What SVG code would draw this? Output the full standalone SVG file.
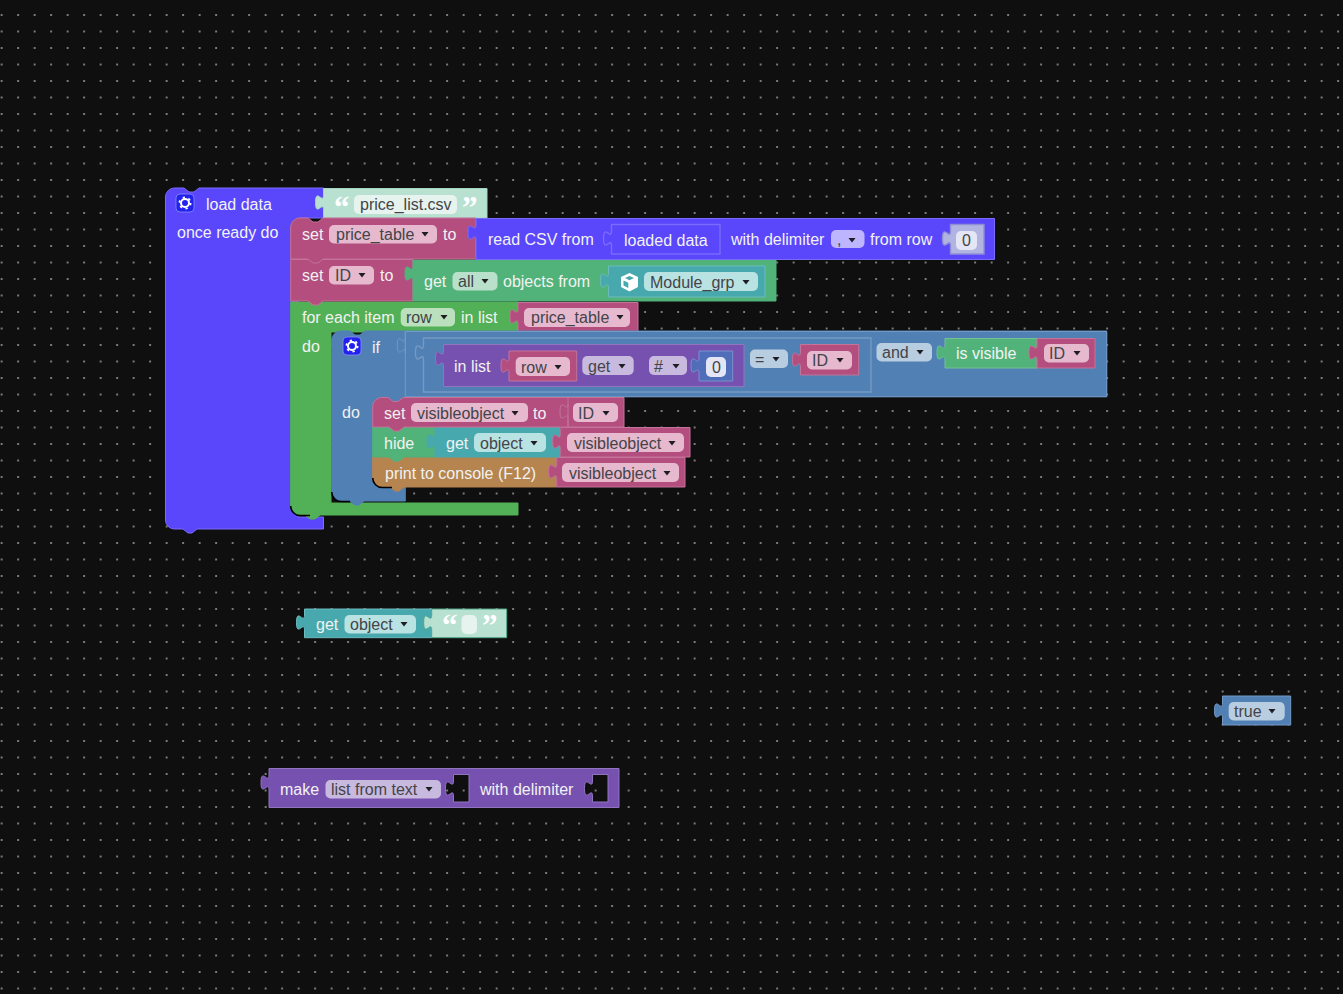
<svg xmlns="http://www.w3.org/2000/svg" xmlns:xlink="http://www.w3.org/1999/xlink" width="1343" height="994" viewBox="0 0 1343 994">
<style>
text{font-family:"Liberation Sans",Arial,sans-serif;font-size:16px;fill:#f2f2f2}
.d{fill:#444448}
.q{font-family:"Liberation Serif","Times New Roman",serif;font-size:31px;font-weight:bold;fill:#fff}
.b{stroke-width:1}
.vi{fill:#5a46fb;stroke:#7a6bfc}
.mg{fill:#b34e7f;stroke:#c47399}
.gr{fill:#52b157;stroke:#52b157}
.dg{fill:#51b27a;stroke:#74c195}
.te{fill:#47a9ad;stroke:#6cbbbe}
.mi{fill:#b9e1d2;stroke:#52a58a}
.bl{fill:#5180b5;stroke:#7499c4}
.pu{fill:#7651b0;stroke:#9174c0}
.or{fill:#b5844f;stroke:#c49c72}
.f{rx:5px;ry:5px}
.fm{fill:#e6b9ce}.fg{fill:#bbe0bd}.fd{fill:#b9e0ca}.ft{fill:#b9e2e3}.fb{fill:#b9cde1}.fp{fill:#c8b9df}.fv{fill:#bdb5fd}.fw{fill:#e6f3ee}.fz{fill:#e4e6f5}
.s{fill:none;stroke:#000;stroke-width:1.6}
</style>
<defs>
<pattern id="dots" width="16.5" height="16.5" patternUnits="userSpaceOnUse" patternTransform="translate(1.65 -1.5)">
<circle cx="0" cy="0" r="1" fill="#a0a0a0"/><circle cx="16.5" cy="0" r="1" fill="#a0a0a0"/><circle cx="0" cy="16.5" r="1" fill="#a0a0a0"/><circle cx="16.5" cy="16.5" r="1" fill="#a0a0a0"/>
</pattern>
<path id="a" d="M-3.5 -2H3.5L0 2.5z" fill="#1d1d22"/>
<g id="gear">
<rect x="-9" y="-9" width="18" height="18" rx="4" fill="#2222ee" stroke="#8c8cf5" stroke-width=".8"/>
<circle r="4" fill="none" stroke="#fff" stroke-width="2"/>
<circle r="5.6" fill="none" stroke="#fff" stroke-width="1.8" stroke-dasharray="2.2 3.66"/>
</g>
</defs>
<rect width="1343" height="994" fill="#0f0f0f"/>
<rect width="1343" height="994" fill="url(#dots)"/>

<g id="load-data">
<path class="b vi" d="M165.5 197a9 9 0 0 1 9-9H184l5 4h5l5-4H323.5V218H298V517H323.5V529H197l-5 4h-4l-5-4H174a9 9 0 0 1-8.500-9z"/>
<use href="#gear" x="185" y="203"/>
<text x="206" y="210">load data</text>
<text x="177" y="238">once ready do</text>
</g>
<g id="price-list-string">
<path class="b mi" style="stroke:#a4d5c4" d="M323.500 188.500H487V218H323.500V210c0-10-8 8-8-7.500s8 2.500 8-7.500z"/>
<text class="q" x="334" y="218">“</text><text class="q" x="462" y="218">”</text>
<rect class="f fw" x="354" y="195" width="103" height="19"/>
<text class="d" x="360" y="210">price_list.csv</text>
</g>

<g id="for-each">
<path class="b gr" d="M290.700 302H518V332H331V503H518V515H320l-5 4h-5l-5-4H300a9 9 0 0 1-9.300-9z"/>
<text x="302" y="323">for each item</text>
<rect class="f fg" x="400.700" y="308" width="54.300" height="18.500"/>
<text class="d" x="406" y="323">row</text><use href="#a" x="444" y="317"/>
<text x="461" y="323">in list</text>
<text x="302" y="352">do</text>
<path class="s" d="M290.700 506a9.500 9.500 0 0 0 9.500 9.500H310"/>
</g>
<g id="price-table-get-1">
<path class="b mg" d="M518 302.500H638V332H518V324c0-10-8 8-8-7.500s8 2.500 8-7.500z"/>
<rect class="f fm" x="524" y="308" width="106" height="19"/>
<text class="d" x="531" y="323">price_table</text><use href="#a" x="620" y="317"/>
</g>

<g id="set-id">
<path class="b mg" d="M290.700 259.500H413V301H323l-5 4h-5l-5-4H290.700z"/>
<text x="302" y="281">set</text>
<rect class="f fm" x="329" y="266" width="45" height="18.500"/>
<text class="d" x="335" y="281">ID</text><use href="#a" x="362" y="275"/>
<text x="380" y="281">to</text>
</g>
<g id="get-all">
<path class="b dg" style="stroke:#51b27a" d="M413 260H776V301H413V281c0-10-8 8-8-7.500s8 2.500 8-7.500z"/>
<text x="424" y="287">get</text>
<rect class="f fd" x="452.500" y="272" width="45" height="18.500"/>
<text class="d" x="458" y="287">all</text><use href="#a" x="485" y="281"/>
<text x="503" y="287">objects from</text>
</g>
<g id="module-grp">
<path class="b te" d="M608.500 266H765V297H608.500V288c0-10-8 8-8-7.500s8 2.500 8-7.500z"/>
<path fill="#fff" fill-rule="evenodd" d="M629.500 273l8.500 4v10l-8.500 4.500-8.500-4.500V277zM629.500 276l-4.500 2 4.500 2.300 4.500-2.300zM623.500 280.500v5l4.800 2.500v-5.200z"/>
<rect class="f ft" x="644" y="272" width="114" height="19"/>
<text class="d" x="650" y="288">Module_grp</text><use href="#a" x="746" y="282"/>
</g>

<g id="set-price-table">
<path class="b mg" d="M290.700 227a9 9 0 0 1 9-9H308l5 4h5l5-4H476V259H323l-5 4h-5l-5-4H290.700z"/>
<text x="302" y="240">set</text>
<rect class="f fm" x="329" y="225" width="108" height="18.500"/>
<text class="d" x="336" y="240">price_table</text><use href="#a" x="425" y="234"/>
<text x="443" y="240">to</text>
</g>
<g id="read-csv">
<path class="b vi" d="M476 218.500H994.500V259.500H476V240c0-10-8 8-8-7.500s8 2.500 8-7.500z"/>
<text x="488" y="245">read CSV from</text>
<path fill="none" stroke="#7a6bfc" stroke-width="1.400" d="M611.500 224.500H720V254H611.500V246c0-10-8 8-8-7.500s8 2.500 8-7.500z"/>
<text x="624" y="246">loaded data</text>
<text x="731" y="245">with delimiter</text>
<rect class="f fv" x="831" y="230" width="33.500" height="18"/>
<text class="d" x="837" y="245">,</text><use href="#a" x="852" y="240"/>
<text x="870" y="245">from row</text>
<path fill="#b1b4e0" stroke="#8e8ed8" stroke-width="1.400" d="M950.500 224.500H984V254H950.500V246c0-10-8 8-8-7.500s8 2.500 8-7.500z"/>
<rect class="f fz" x="956" y="231" width="21" height="19"/>
<text class="d" x="962" y="246">0</text>
</g>

<g id="if-block">
<path class="b bl" style="stroke:#5180b5" d="M331.700 340a9 9 0 0 1 9-9H350l5 4h5l5-4H1106.700V396.700H405.300V501H364l-5 4h-4l-5-4H341a9 9 0 0 1-9.300-9z"/>
<use href="#gear" x="352" y="346"/>
<text x="372" y="353">if</text>
<text x="342" y="418">do</text>
<path class="s" d="M331.700 492a9.500 9.500 0 0 0 9.500 9.500H350"/>
<path fill="none" stroke="#7499c4" d="M405.300 331.500V396.700H1106.700V331.500H405.300V353c0-10-8 8-8-7.500s8 2.500 8-7.500"/>
</g>
<g id="compare">
<path fill="none" stroke="#7499c4" stroke-width="1.400" d="M423.500 338H871V392H423.500V360c0-10-8 8-8-7.500s8 2.500 8-7.500z"/>
<rect class="f fb" x="750" y="349.500" width="38" height="18.500"/>
<text class="d" x="755" y="365">=</text><use href="#a" x="776" y="359"/>
</g>
<g id="in-list">
<path class="b pu" d="M443.500 344.500H744V386.500H443.500V366c0-10-8 8-8-7.500s8 2.500 8-7.500z"/>
<text x="454" y="372">in list</text>
<rect class="f fp" x="582.300" y="356" width="51.400" height="19"/>
<text class="d" x="588" y="372">get</text><use href="#a" x="622" y="366"/>
<rect class="f fp" x="649" y="356" width="38" height="19"/>
<text class="d" x="654" y="372">#</text><use href="#a" x="676" y="366"/>
</g>
<g id="row-get">
<path class="b mg" d="M509 351H576.700V381H509V373c0-10-8 8-8-7.500s8 2.500 8-7.500z"/>
<rect class="f fm" x="515.700" y="357" width="54.300" height="19"/>
<text class="d" x="521" y="373">row</text><use href="#a" x="558" y="367"/>
</g>
<g id="number-0">
<path fill="#4f6db8" stroke="#7a91cc" d="M699 351H732.700V381H699V373c0-10-8 8-8-7.500s8 2.500 8-7.500z"/>
<rect class="f fz" x="706" y="357" width="20" height="20"/>
<text class="d" x="712" y="373">0</text>
</g>
<g id="id-get-1">
<path class="b mg" d="M800.500 344.500H858.700V375H800.500V367c0-10-8 8-8-7.500s8 2.500 8-7.500z"/>
<rect class="f fm" x="807" y="351" width="45" height="18.500"/>
<text class="d" x="812" y="366">ID</text><use href="#a" x="840" y="360"/>
</g>
<rect class="f fb" x="876.500" y="343" width="55.500" height="18.500"/>
<text class="d" x="882" y="358">and</text><use href="#a" x="920" y="352"/>
<g id="is-visible">
<path class="b dg" d="M945 338.500H1037V368H945V360c0-10-8 8-8-7.500s8 2.500 8-7.500z"/>
<text x="956" y="359">is visible</text>
</g>
<g id="id-get-2">
<path class="b mg" d="M1037 338.500H1095V368H1037V360c0-10-8 8-8-7.500s8 2.500 8-7.500z"/>
<rect class="f fm" x="1044" y="344" width="45" height="18.500"/>
<text class="d" x="1049" y="359">ID</text><use href="#a" x="1077" y="353"/>
</g>

<g id="print-console">
<path class="b or" style="stroke:#b5844f" d="M372.700 457H556.700V487H404l-5 4h-4l-5-4H382a9 9 0 0 1-9.300-9z"/>
<text x="385" y="479">print to console (F12)</text>
<path class="s" d="M372.700 478a9.500 9.500 0 0 0 9.500 9.500H392"/>
</g>
<g id="visibleobject-get-3">
<path class="b mg" d="M556.700 457.500H685V487H556.700V479c0-10-8 8-8-7.500s8 2.500 8-7.500z"/>
<rect class="f fm" x="562" y="463" width="117" height="19"/>
<text class="d" x="569" y="479">visibleobject</text><use href="#a" x="667" y="473"/>
</g>
<g id="hide">
<path class="b dg" style="stroke:#51b27a" d="M372.700 427H435V457H404l-5 4h-5l-5-4H372.700z"/>
<text x="384" y="449">hide</text>
</g>
<g id="get-object-1">
<path class="b te" style="stroke:#47a9ad" d="M435 427.500H560V457H435V449c0-10-8 8-8-7.500s8 2.500 8-7.500z"/>
<text x="446" y="449">get</text>
<rect class="f ft" x="474" y="433" width="72" height="19"/>
<text class="d" x="480" y="449">object</text><use href="#a" x="534" y="443"/>
</g>
<g id="visibleobject-get-2">
<path class="b mg" d="M560.700 427.500H690V457H560.700V449c0-10-8 8-8-7.500s8 2.500 8-7.500z"/>
<rect class="f fm" x="567" y="433" width="117" height="19"/>
<text class="d" x="574" y="449">visibleobject</text><use href="#a" x="672" y="443"/>
</g>
<g id="set-visibleobject">
<path class="b mg" d="M372.700 406.500a9 9 0 0 1 9-9H388l5 4h5l5-4H624V427H404l-5 4h-5l-5-4H372.700z"/>
<text x="384" y="419">set</text>
<rect class="f fm" x="411" y="403" width="117" height="19"/>
<text class="d" x="417" y="419">visibleobject</text><use href="#a" x="515" y="413"/>
<text x="533" y="419">to</text>
<path fill="none" stroke="#c47399" d="M568 398V427V419c0-10-8 8-8-7.500s8 2.500 8-7.500"/>
<rect class="f fm" x="573" y="403" width="45" height="19"/>
<text class="d" x="578" y="419">ID</text><use href="#a" x="606" y="413"/>
</g>

<g id="get-object-free">
<path class="b te" d="M304.500 609H431.700V637.700H304.500V630c0-10-8 8-8-7.500s8 2.500 8-7.500z"/>
<text x="316" y="630">get</text>
<rect class="f ft" x="344.500" y="615" width="71.500" height="18.500"/>
<text class="d" x="350" y="630">object</text><use href="#a" x="404" y="624"/>
</g>
<g id="empty-string">
<path class="b mi" style="stroke:#52a58a" d="M431.700 609H506.700V637.700H431.700V630c0-10-8 8-8-7.500s8 2.500 8-7.500z"/>
<text class="q" x="442" y="636">“</text><text class="q" x="482" y="636">”</text>
<rect class="f fw" x="461.500" y="615" width="15.500" height="19"/>
</g>

<g id="make-list">
<path class="b" fill="#7651b0" stroke="#9174c0" fill-rule="evenodd" d="M269 768.500H619V807.500H269V790c0-10-8 8-8-7.500s8 2.500 8-7.500zM453.500 774.500V781c0 10-8-8-8 7.500s8-2.500 8 7.500V802H469V774.500zM592.500 774.500V781c0 10-8-8-8 7.500s8-2.500 8 7.500V802H608V774.500z"/>
<text x="280" y="795">make</text>
<rect class="f fp" x="325.500" y="780" width="115.500" height="18.500"/>
<text class="d" x="331" y="795">list from text</text><use href="#a" x="429" y="789"/>
<text x="480" y="795">with delimiter</text>
</g>
<g id="true-block">
<path class="b bl" d="M1222.500 696H1290.700V725H1222.500V718c0-10-8 8-8-7.500s8 2.500 8-7.500z"/>
<rect class="f fb" x="1228.700" y="702" width="56" height="18.500"/>
<text class="d" x="1234" y="717">true</text><use href="#a" x="1272" y="711"/>
</g>
</svg>
